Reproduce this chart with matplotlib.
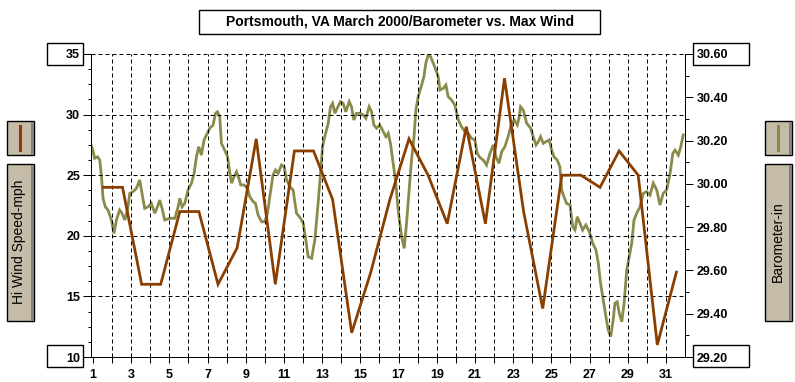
import matplotlib
matplotlib.use("Agg")
import matplotlib.pyplot as plt
from matplotlib.patches import Rectangle
from matplotlib.ticker import MultipleLocator, FormatStrFormatter
import numpy as np

# ---- data ----
days = list(range(1, 32))
day_labels = [str(d) if d % 2 == 1 else "" for d in days]

# daily max wind (mph), plotted mid-day
wind_mph = [24, 24, 16, 16, 22, 22, 16, 19, 28, 16, 27, 27, 23, 12, 17, 23,
            28, 25, 21, 29, 21, 33, 22, 14, 25, 25, 24, 27, 25, 11, 17]

# barometer readings (inches) against time in days
baro_day = [0.9, 1.0, 1.09, 1.24, 1.36, 1.45, 1.53, 1.65, 1.79, 1.97, 2.1, 2.23,
            2.4, 2.52, 2.67, 2.81, 2.93, 3.1, 3.28, 3.45, 3.57, 3.71, 3.89, 4.06,
            4.24, 4.38, 4.5, 4.62, 4.76, 5.02, 5.29, 5.46, 5.55, 5.67, 5.81, 5.98,
            6.16, 6.3, 6.42, 6.54, 6.68, 6.82, 6.95, 7.12, 7.29, 7.42, 7.52, 7.64,
            7.73, 7.9, 8.05, 8.17, 8.26, 8.39, 8.52, 8.64, 8.74, 8.92, 9.09, 9.21,
            9.39, 9.51, 9.65, 9.83, 10.0, 10.14, 10.26, 10.43, 10.56, 10.7, 10.87,
            11.01, 11.14, 11.31, 11.48, 11.66, 11.87, 12.01, 12.15, 12.27, 12.45,
            12.62, 12.79, 12.92, 13.02, 13.14, 13.32, 13.44, 13.55, 13.67, 13.79,
            13.96, 14.1, 14.24, 14.42, 14.54, 14.66, 14.8, 14.98, 15.15, 15.29,
            15.46, 15.59, 15.71, 15.85, 16.02, 16.2, 16.34, 16.46, 16.58, 16.72,
            16.86, 16.98, 17.16, 17.3, 17.42, 17.56, 17.68, 17.8, 17.91, 18.03,
            18.21, 18.33, 18.43, 18.55, 18.68, 18.82, 18.96, 19.08, 19.17, 19.34,
            19.48, 19.6, 19.78, 19.95, 20.13, 20.3, 20.48, 20.65, 20.83, 21.0,
            21.12, 21.26, 21.44, 21.61, 21.79, 21.96, 22.1, 22.26, 22.4, 22.57,
            22.74, 22.92, 23.06, 23.22, 23.32, 23.39, 23.53, 23.71, 23.92, 24.05,
            24.2, 24.32, 24.44, 24.58, 24.72, 24.89, 25.02, 25.14, 25.31, 25.45,
            25.54, 25.66, 25.8, 25.98, 26.12, 26.24, 26.36, 26.5, 26.64, 26.81,
            26.99, 27.17, 27.34, 27.46, 27.58, 27.72, 27.86, 27.98, 28.11, 28.24,
            28.33, 28.45, 28.56, 28.69, 28.81, 28.95, 29.08, 29.21, 29.33, 29.47,
            29.64, 29.82, 29.99, 30.17, 30.34, 30.52, 30.69, 30.86, 31.04, 31.22,
            31.36, 31.48, 31.65, 31.78, 31.91]
baro_in = [30.18, 30.156, 30.118, 30.125, 30.11, 30.033, 29.933, 29.894, 29.879,
           29.833, 29.771, 29.833, 29.879, 29.865, 29.833, 29.879, 29.956, 29.964,
           29.979, 30.018, 29.956, 29.887, 29.894, 29.91, 29.864, 29.894, 29.925,
           29.887, 29.833, 29.841, 29.841, 29.894, 29.933, 29.894, 29.91, 29.972,
           30.003, 30.049, 30.125, 30.172, 30.133, 30.203, 30.226, 30.257, 30.272,
           30.326, 30.333, 30.31, 30.187, 30.156, 30.125, 30.049, 30.003, 30.033,
           30.056, 30.026, 29.995, 29.995, 29.979, 29.941, 29.918, 29.91, 29.856,
           29.825, 29.825, 29.864, 29.941, 30.041, 30.064, 30.049, 30.087, 30.079,
           30.018, 29.987, 29.972, 29.864, 29.841, 29.818, 29.74, 29.663, 29.656,
           29.74, 29.91, 30.049, 30.172, 30.218, 30.28, 30.356, 30.372, 30.326,
           30.349, 30.38, 30.372, 30.333, 30.38, 30.356, 30.295, 30.326, 30.326,
           30.318, 30.303, 30.356, 30.333, 30.272, 30.257, 30.272, 30.241, 30.218,
           30.234, 30.187, 30.095, 30.003, 29.879, 29.756, 29.702, 29.818, 29.972,
           30.11, 30.203, 30.341, 30.403, 30.457, 30.495, 30.557, 30.595, 30.588,
           30.557, 30.526, 30.495, 30.434, 30.441, 30.457, 30.403, 30.387, 30.364,
           30.295, 30.264, 30.241, 30.234, 30.21, 30.203, 30.141, 30.122, 30.11,
           30.087, 30.141, 30.18, 30.125, 30.095, 30.148, 30.172, 30.218, 30.28,
           30.295, 30.272, 30.31, 30.356, 30.341, 30.28, 30.257, 30.218, 30.18,
           30.195, 30.218, 30.187, 30.195, 30.203, 30.156, 30.125, 30.11, 30.079,
           29.972, 29.941, 29.91, 29.902, 29.802, 29.787, 29.848, 29.818, 29.787,
           29.81, 29.779, 29.725, 29.694, 29.633, 29.54, 29.463, 29.386, 29.325,
           29.294, 29.371, 29.448, 29.455, 29.402, 29.363, 29.448, 29.602, 29.663,
           29.725, 29.833, 29.864, 29.894, 29.956, 29.964, 29.948, 30.003, 29.972,
           29.902, 29.956, 29.972, 30.049, 30.141, 30.156, 30.133, 30.172, 30.226]

title = "Portsmouth, VA March 2000/Barometer vs. Max Wind"
wind_label = "Hi Wind Speed-mph"
baro_label = "Barometer-in"

BROWN = "#8a3f00"
OLIVE = "#8a8a4c"
PANEL = "#c4bca8"

W, H = 795, 382
fig = plt.figure(figsize=(W / 100, H / 100), dpi=100)
fig.patch.set_facecolor("white")

# plot area in pixels: x 91..685, y 54..357
ax = fig.add_axes([91 / W, 1 - 357 / H, (685 - 91) / W, (357 - 54) / H])
ax2 = ax.twinx()

tick_font = dict(family="Liberation Sans", weight="bold", size=9)
lw_px = 0.72

ax.set_xlim(0.9, 32)
ax.set_ylim(10, 35)
ax2.set_ylim(29.2, 30.6)

# dashed grid
for d in days[1:]:
    ax.axvline(d, color="black", lw=lw_px, dashes=(4, 3), zorder=0)
for v in [15, 20, 25, 30, 35]:
    ax.axhline(v, color="black", lw=lw_px, dashes=(4, 3), zorder=0)

wind_x = np.array(days) + 0.55
ax2.plot(baro_day, baro_in, color=OLIVE, lw=2.0, solid_joinstyle="miter")
ax.plot(wind_x, wind_mph, color=BROWN, lw=2.0, solid_joinstyle="miter")
ax.set_zorder(ax2.get_zorder() + 1)
ax.patch.set_visible(False)

for a in (ax, ax2):
    a.spines["top"].set_visible(False)
    for s in a.spines.values():
        s.set_linewidth(lw_px)
ax.spines["right"].set_visible(False)

# left axis
ax.yaxis.set_major_locator(MultipleLocator(5))
ax.yaxis.set_minor_locator(MultipleLocator(1.25))
ax.tick_params(axis="y", which="major", direction="out", length=5.8, width=lw_px, pad=2)
ax.tick_params(axis="y", which="minor", direction="out", length=2.5, width=lw_px)
for t in ax.get_yticklabels():
    t.set(**tick_font)

# bottom axis
ax.set_xticks(days)
ax.set_xticklabels(day_labels)
ax.tick_params(axis="x", which="major", direction="out", length=4.3, width=lw_px, pad=4)
for t in ax.get_xticklabels():
    t.set(**tick_font)

# right axis
ax2.yaxis.set_major_locator(MultipleLocator(0.2))
ax2.yaxis.set_minor_locator(MultipleLocator(0.1))
ax2.yaxis.set_major_formatter(FormatStrFormatter("%.2f"))
ax2.tick_params(axis="y", which="major", direction="out", length=5.5, width=lw_px, pad=3)
ax2.tick_params(axis="y", which="minor", direction="out", length=2.8, width=lw_px)
for t in ax2.get_yticklabels():
    t.set(**tick_font)


def px_rect(x0, y0, x1, y1, **kw):
    r = Rectangle((x0 / W, 1 - y1 / H), (x1 - x0) / W, (y1 - y0) / H,
                  transform=fig.transFigure, **kw)
    fig.patches.append(r)
    return r


# boxes round the end tick labels
for x0, x1 in [(47, 83), (693, 749)]:
    for y0, y1 in [(43, 65), (345, 367)]:
        px_rect(x0, y0, x1, y1, fill=False, edgecolor="black", lw=1.0)

# title box
px_rect(199, 10, 600, 34, facecolor="white", edgecolor="black", lw=1.0)
fig.text(400 / W, 1 - 22 / H, title, ha="center", va="center",
         family="Liberation Sans", weight="bold", size=10)


def legend_panel(x0, color, label):
    x1 = x0 + 27
    # swatch box
    px_rect(x0, 121, x1, 155, facecolor=PANEL, edgecolor="black", lw=1.0)
    px_rect(x1 - 3.5, 121.5, x1 - 0.5, 154.5, facecolor="#808080", edgecolor="none")
    fig.add_artist(plt.Line2D([(x0 + 13) / W] * 2, [1 - 126 / H, 1 - 150 / H],
                              color=color, lw=2.2, transform=fig.transFigure))
    # label box
    px_rect(x0, 164, x1, 321, facecolor=PANEL, edgecolor="black", lw=1.0)
    px_rect(x1 - 3.5, 164.5, x1 - 0.5, 320.5, facecolor="#808080", edgecolor="none")
    fig.text((x0 + 12.5) / W, 1 - 242 / H, label, rotation=90, ha="center",
             va="center", family="Liberation Sans", size=10)


legend_panel(7, BROWN, wind_label)
legend_panel(765, OLIVE, baro_label)

fig.savefig("out.png", dpi=100)
